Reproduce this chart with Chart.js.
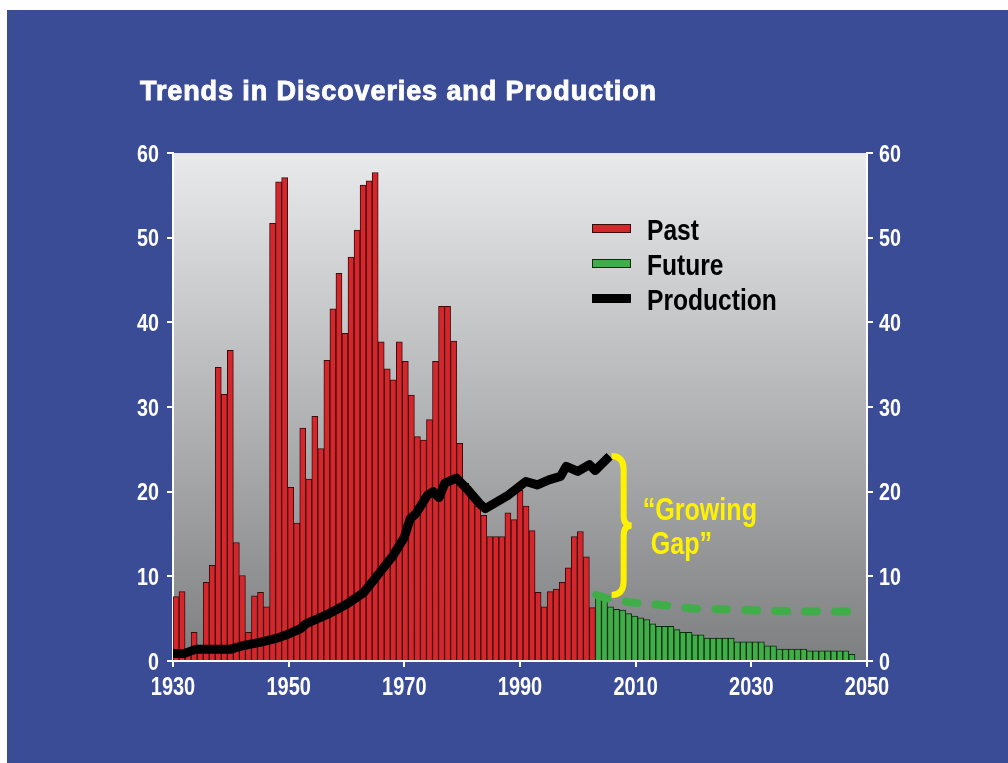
<!DOCTYPE html>
<html>
<head>
<meta charset="utf-8">
<title>Trends in Discoveries and Production</title>
<script src="https://cdn.jsdelivr.net/npm/chart.js@4.4.1/dist/chart.umd.min.js"></script>
<style>
  html, body { margin: 0; padding: 0; background: #fff; }
  #wrap { width: 1008px; height: 763px; }
</style>
</head>
<body>
<div id="wrap"><canvas id="discChart" width="1008" height="763"></canvas></div>
<script>
// discoveries per bar (past = red, future = green)
const pastDiscoveries = [
    7.6, 8.2, 1.4, 3.4, 1.7, 9.3, 11.3, 34.7, 31.5, 36.7,
    14.0, 10.1, 3.4, 7.7, 8.1, 6.4, 51.7, 56.6, 57.1, 20.5,
    16.3, 27.5, 21.5, 28.9, 25.1, 35.5, 41.6, 45.8, 38.7, 47.7,
    50.9, 56.2, 56.7, 57.7, 37.7, 34.5, 33.2, 37.7, 35.4, 31.4,
    26.5, 26.1, 28.5, 35.4, 41.9, 41.9, 37.8, 25.7, 21.0, 19.5,
    18.3, 17.2, 14.7, 14.7, 14.7, 17.5, 16.7, 20.2, 18.3, 15.4,
    8.1, 6.4, 8.2, 8.5, 9.3, 11.0, 14.7, 15.3, 12.3, 6.3
];
const futureDiscoveries = [
    7.8, 7.3, 6.4, 6.1, 6.0, 5.6, 5.3, 5.1, 4.9, 4.4,
    4.1, 4.1, 4.1, 3.7, 3.4, 3.4, 3.1, 3.1, 2.7, 2.7,
    2.7, 2.7, 2.7, 2.25, 2.25, 2.25, 2.25, 2.25, 1.8, 1.8,
    1.4, 1.4, 1.4, 1.4, 1.4, 1.2, 1.2, 1.2, 1.2, 1.2,
    1.2, 1.2, 0.8
];
const barSlots = 115;

// production line
const prodYears = [1930, 1932, 1934, 1940, 1942, 1945, 1948, 1950, 1952, 1953,
    1957, 1960, 1963, 1965, 1968, 1970, 1971, 1972, 1974, 1975,
    1976, 1977, 1979, 1981, 1983, 1984, 1988, 1991, 1993, 1995,
    1997, 1998, 2000, 2002, 2003, 2005.5];
const prodValues = [0.9, 0.9, 1.4, 1.4, 1.8, 2.2, 2.7, 3.2, 3.8, 4.4,
    5.6, 6.7, 8.1, 9.8, 12.4, 14.6, 16.8, 17.4, 19.6, 20.0,
    19.3, 21.0, 21.6, 20.2, 18.6, 18.0, 19.6, 21.2, 20.8, 21.4,
    21.8, 23.0, 22.4, 23.2, 22.5, 24.2];

// dashed green line
const trendYears = [2003.2, 2005, 2009.5, 2014.7, 2020, 2025, 2030, 2035.5, 2040.7, 2047.3];
const trendValues = [7.8, 7.4, 6.9, 6.6, 6.2, 6.1, 6.0, 5.9, 5.85, 5.85];

const yearTicks = [1930, 1950, 1970, 1990, 2010, 2030, 2050];
const valueTicks = [0, 10, 20, 30, 40, 50, 60];

const SANS = "'Liberation Sans', Arial, sans-serif";
const RED = '#d5262c';
const GREEN = '#3fae49';
const YELLOW = '#fff200';

const barLabels = [];
for (let i = 0; i < barSlots; i++) barLabels.push(String(i + 1));

const pastData = pastDiscoveries.concat(futureDiscoveries.map(() => null));
const futureData = pastDiscoveries.map(() => null).concat(futureDiscoveries);

// no condensed face is installed, so squeeze a bold sans horizontally
function narrowText(ctx, text, x, y, size, align, sx) {
    ctx.save();
    ctx.translate(x, y);
    ctx.scale(sx, 1);
    ctx.font = 'bold ' + size + 'px ' + SANS;
    ctx.textAlign = align;
    ctx.textBaseline = 'alphabetic';
    ctx.fillText(text, 0, 0);
    ctx.restore();
}

const backdrop = {
    id: 'backdrop',
    beforeDraw(chart) {
        const ctx = chart.ctx;
        const a = chart.chartArea;
        ctx.save();
        ctx.fillStyle = '#3a4c96';
        ctx.fillRect(7, 10, chart.width - 7, chart.height - 10);
        const g = ctx.createLinearGradient(0, a.top, 0, a.bottom);
        g.addColorStop(0, '#e9eaeb');
        g.addColorStop(1, '#7e7f81');
        ctx.fillStyle = g;
        ctx.fillRect(a.left, a.top, a.right - a.left, a.bottom - a.top);
        ctx.restore();
    }
};

const extras = {
    id: 'extras',
    afterDraw(chart) {
        const ctx = chart.ctx;
        const x = chart.scales.x;
        const y = chart.scales.y;
        const y2 = chart.scales.y2;
        ctx.save();

        // title
        ctx.fillStyle = '#fff';
        ctx.strokeStyle = '#fff';
        ctx.lineWidth = 0.9;
        ctx.font = 'bold 27px ' + SANS;
        ctx.textBaseline = 'alphabetic';
        ctx.letterSpacing = '0.9px';
        ctx.fillText('Trends in Discoveries and Production', 140, 100);
        ctx.strokeText('Trends in Discoveries and Production', 140, 100);
        ctx.letterSpacing = '0px';

        // tick labels
        ctx.fillStyle = '#fff';
        yearTicks.forEach(v => narrowText(ctx, String(v), x.getPixelForValue(v), 695, 25, 'center', 0.8));
        valueTicks.forEach(v => {
            narrowText(ctx, String(v), y.left + y.width - 14, y.getPixelForValue(v) + 8.5, 24, 'right', 0.82);
            narrowText(ctx, String(v), y2.left + 12, y2.getPixelForValue(v) + 8.5, 24, 'left', 0.82);
        });

        // legend
        const items = [
            { label: 'Past', fill: RED, stroke: '#3b0b0b', top: 224 },
            { label: 'Future', fill: GREEN, stroke: '#0b2a0b', top: 259 },
            { label: 'Production', fill: '#000', stroke: '#000', top: 294 }
        ];
        items.forEach(it => {
            ctx.fillStyle = it.fill;
            ctx.fillRect(592, it.top, 39, 9);
            ctx.strokeStyle = it.stroke;
            ctx.lineWidth = 1;
            ctx.strokeRect(592.5, it.top + 0.5, 38, 8);
            ctx.fillStyle = '#000';
            narrowText(ctx, it.label, 647, it.top + 16, 30, 'left', 0.82);
        });

        // brace for the gap
        const bx = x.getPixelForValue(prodYears[prodYears.length - 1]) + 2;
        const yTop = y.getPixelForValue(prodValues[prodValues.length - 1]);
        const yBot = y.getPixelForValue(trendValues[0]);
        const yMid = (yTop + yBot) / 2;
        ctx.strokeStyle = YELLOW;
        ctx.lineWidth = 6;
        ctx.beginPath();
        ctx.moveTo(bx, yTop);
        ctx.quadraticCurveTo(bx + 12, yTop, bx + 12, yTop + 14);
        ctx.lineTo(bx + 12, yMid - 10);
        ctx.quadraticCurveTo(bx + 12, yMid, bx + 20, yMid);
        ctx.quadraticCurveTo(bx + 12, yMid, bx + 12, yMid + 10);
        ctx.lineTo(bx + 12, yBot - 14);
        ctx.quadraticCurveTo(bx + 12, yBot, bx, yBot);
        ctx.stroke();

        ctx.fillStyle = YELLOW;
        narrowText(ctx, '\u201cGrowing', bx + 31, 520, 31, 'left', 0.81);
        narrowText(ctx, 'Gap\u201d', bx + 39, 554, 31, 'left', 0.81);
        ctx.restore();
    }
};

const whiteGrid = { display: true, drawOnChartArea: false, drawTicks: true, tickLength: 6, color: '#fff', lineWidth: 2 };
const whiteBorder = { display: true, color: '#fff', width: 2 };

new Chart(document.getElementById('discChart').getContext('2d'), {
    type: 'bar',
    data: {
        labels: barLabels,
        datasets: [
            {
                type: 'line',
                label: 'Production',
                data: prodYears.map((yr, i) => ({ x: yr, y: prodValues[i] })),
                xAxisID: 'x', yAxisID: 'y',
                borderColor: '#000', borderWidth: 9,
                borderJoinStyle: 'round', borderCapStyle: 'butt',
                pointRadius: 0, tension: 0, order: 0
            },
            {
                type: 'line',
                label: 'Trend',
                data: trendYears.map((yr, i) => ({ x: yr, y: trendValues[i] })),
                xAxisID: 'x', yAxisID: 'y',
                borderColor: GREEN, borderWidth: 8,
                borderDash: [12, 18], borderCapStyle: 'round',
                pointRadius: 0, tension: 0.3, order: 0
            },
            {
                label: 'Past',
                data: pastData,
                xAxisID: 'xb', yAxisID: 'y',
                backgroundColor: RED, borderColor: '#3b0b0b',
                borderWidth: { top: 1, left: 1, right: 1, bottom: 0 },
                grouped: false, categoryPercentage: 1, barPercentage: 1, order: 1
            },
            {
                label: 'Future',
                data: futureData,
                xAxisID: 'xb', yAxisID: 'y',
                backgroundColor: GREEN, borderColor: '#0b2a0b',
                borderWidth: { top: 1, left: 1, right: 1, bottom: 0 },
                grouped: false, categoryPercentage: 1, barPercentage: 1, order: 1
            }
        ]
    },
    options: {
        responsive: false,
        animation: false,
        layout: { padding: { top: 153, left: 0, right: 0, bottom: 0 } },
        plugins: { legend: { display: false }, tooltip: { enabled: false }, title: { display: false } },
        scales: {
            xb: { type: 'category', display: false, offset: true },
            x: {
                type: 'linear', position: 'bottom', min: 1930, max: 2050,
                offset: false,
                afterBuildTicks: s => { s.ticks = yearTicks.map(v => ({ value: v })); },
                afterFit: s => { s.height = 102; },
                grid: Object.assign({}, whiteGrid, { offset: false }),
                border: whiteBorder,
                ticks: { display: false }
            },
            y: {
                type: 'linear', position: 'left', min: 0, max: 60,
                afterBuildTicks: s => { s.ticks = valueTicks.map(v => ({ value: v })); },
                afterFit: s => { s.width = 173; },
                grid: whiteGrid, border: whiteBorder,
                ticks: { display: false }
            },
            y2: {
                type: 'linear', position: 'right', min: 0, max: 60,
                afterBuildTicks: s => { s.ticks = valueTicks.map(v => ({ value: v })); },
                afterFit: s => { s.width = 141; },
                grid: whiteGrid, border: whiteBorder,
                ticks: { display: false }
            }
        }
    },
    plugins: [backdrop, extras]
});
</script>
</body>
</html>
